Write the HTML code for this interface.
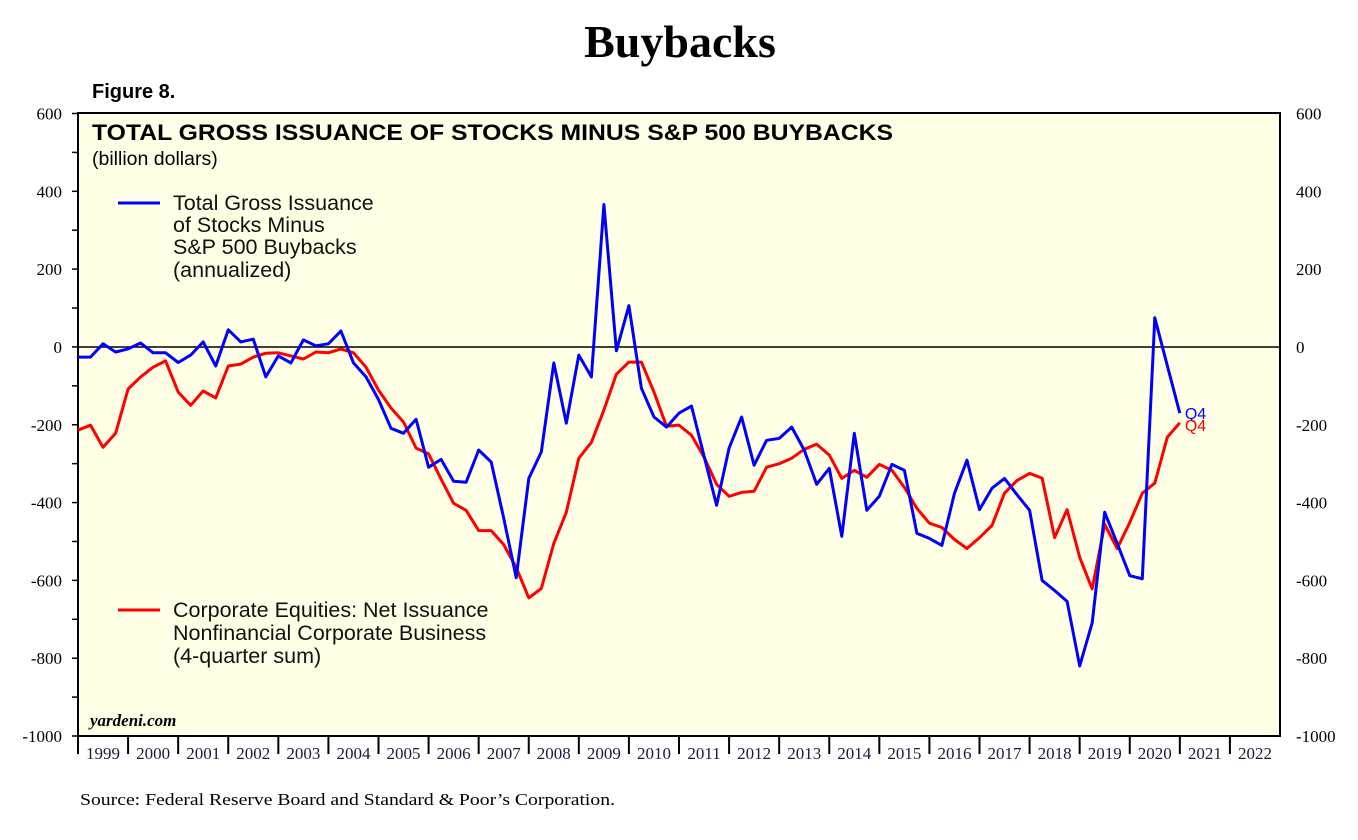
<!DOCTYPE html>
<html><head><meta charset="utf-8">
<style>
body{margin:0;background:#fff;width:1358px;height:840px;overflow:hidden}
svg{display:block}
.s{font-family:"Liberation Serif",serif}
.a{font-family:"Liberation Sans",sans-serif}
</style></head>
<body>
<svg id="c" width="1358" height="840">
<text x="680" y="57" text-anchor="middle" class="s" font-size="46" font-weight="bold">Buybacks</text>
<text x="92" y="98" class="a" font-size="20" font-weight="bold">Figure 8.</text>
<rect x="78" y="113" width="1202" height="623" fill="#ffffe6" stroke="#000" stroke-width="2"/>
<g id="axes"></g>
<line x1="78" x2="1280" id="zero" stroke="#000" stroke-width="1.5"/>
<text x="92" y="140" class="a" font-size="22" font-weight="bold" textLength="801" lengthAdjust="spacingAndGlyphs">TOTAL GROSS ISSUANCE OF STOCKS MINUS S&amp;P 500 BUYBACKS</text>
<text x="92" y="165" class="a" font-size="19.5">(billion dollars)</text>
<g>
<line x1="118" y1="203" x2="160" y2="203" stroke="#0000ff" stroke-width="3"/>
<text class="a" font-size="21.5" fill="#111"><tspan x="173" y="210">Total Gross Issuance</tspan><tspan x="173" y="232">of Stocks Minus</tspan><tspan x="173" y="254">S&amp;P 500 Buybacks</tspan><tspan x="173" y="277">(annualized)</tspan></text>
</g>
<g>
<line x1="118" y1="610" x2="160" y2="610" stroke="#ff0000" stroke-width="3"/>
<text class="a" font-size="21.5" fill="#111"><tspan x="173" y="617">Corporate Equities: Net Issuance</tspan><tspan x="173" y="640">Nonfinancial Corporate Business</tspan><tspan x="173" y="663">(4-quarter sum)</tspan></text>
</g>
<text x="90" y="726" class="s" font-size="17" font-weight="bold" font-style="italic">yardeni.com</text>
<g id="series"></g>
<text x="80" y="805" class="s" font-size="17" textLength="535" lengthAdjust="spacingAndGlyphs">Source: Federal Reserve Board and Standard &amp; Poor’s Corporation.</text>
</svg>
<script>
const yTicks=[600,400,200,0,-200,-400,-600,-800,-1000];
const years=["1999","2000","2001","2002","2003","2004","2005","2006","2007","2008","2009","2010","2011","2012","2013","2014","2015","2016","2017","2018","2019","2020","2021","2022"];
const blueVals=[-26,-26,8,-13,-5,10,-15,-15,-40,-21,13,-49,44,13,20,-77,-23,-41,18,3,8,41,-41,-77,
-135,-209,-222,-186,-309,-289,-345,-348,-265,-296,-440,-593,-338,-270,-41,-196,-21,-77,366,-10,106,-106,-180,-206,-170,
-152,-280,-407,-260,-180,-304,-240,-235,-206,-265,-353,-312,-487,-222,-420,-384,-302,-317,-479,-492,-510,-376,-291,-418,
-363,-338,-380,-420,-600,-626,-654,-820,-709,-425,-505,-588,-596,75,-48,-170];
const redVals=[-214,-201,-258,-222,-108,-77,-52,-36,-116,-150,-113,-131,-49,-44,-26,-16,-15,-23,-31,-13,-15,-5,-15,-52,
-111,-157,-193,-260,-275,-340,-402,-420,-472,-472,-508,-567,-645,-621,-505,-425,-286,-245,-162,-70,-39,-39,-116,-204,-201,
-227,-283,-353,-384,-374,-371,-309,-300,-286,-263,-250,-278,-338,-317,-335,-302,-317,-361,-415,-453,-464,-495,-518,-490,
-459,-376,-343,-325,-337,-490,-418,-541,-622,-456,-518,-451,-376,-350,-232,-195];
const NS="http://www.w3.org/2000/svg";
const L=78,R=1280,T=113.5,B=736,ymax=600,ymin=-1000;
const yS=v=>T+(ymax-v)/(ymax-ymin)*(B-T);
const yw=(R-L)/years.length;
const xS=i=>L+i*yw/4;
function mk(t,p,a){const e=document.createElementNS(NS,t);for(const k in a)e.setAttribute(k,a[k]);p.appendChild(e);return e;}
const ax=document.getElementById('axes');
for(let v=ymax;v>=ymin;v-=100){
 const y=yS(v);
 const tk=mk('line',ax,{x1:L-6,x2:L,y1:y,y2:y,stroke:'#000','stroke-width':1.5});
 
 
}
yTicks.forEach(v=>{
 const y=yS(v);
 const t1=mk('text',ax,{x:62,y:y+6,'text-anchor':'end','font-size':17,class:'s'});t1.textContent=v;
 
 
 const t2=mk('text',ax,{x:1296,y:y+6,'font-size':17,class:'s'});t2.textContent=v;
 
 
});
years.forEach((yr,k)=>{
 const x=L+k*yw;
 const tk=mk('line',ax,{x1:x,x2:x,y1:B,y2:B+18,stroke:'#000','stroke-width':2});
 
 
 const t=mk('text',ax,{x:x+yw/2,y:B+23,'text-anchor':'middle','font-size':17,class:'s',fill:'#1a1a3a'});t.textContent=yr;
 
 
});
const z=document.getElementById('zero');z.setAttribute('y1',yS(0));z.setAttribute('y2',yS(0));
const sg=document.getElementById('series');
function line(vals,col,name){
 const d=vals.map((v,i)=>(i?'L':'M')+xS(i).toFixed(1)+','+yS(v).toFixed(1)).join('');
 const p=mk('path',sg,{d:d,fill:'none',stroke:col,'stroke-width':3,'stroke-linejoin':'round'});
 
 
}
line(redVals,'#ff0000','net-issuance-line');
line(blueVals,'#0000ff','gross-issuance-minus-buybacks-line');
const lb=mk('text',sg,{x:xS(blueVals.length-1)+5,y:yS(blueVals[blueVals.length-1])+6,'font-size':16,class:'a',fill:'#0000ff'});lb.textContent='Q4';


const lr=mk('text',sg,{x:xS(redVals.length-1)+5,y:yS(redVals[redVals.length-1])+8,'font-size':16,class:'a',fill:'#ff0000'});lr.textContent='Q4';


</script>
</body></html>
